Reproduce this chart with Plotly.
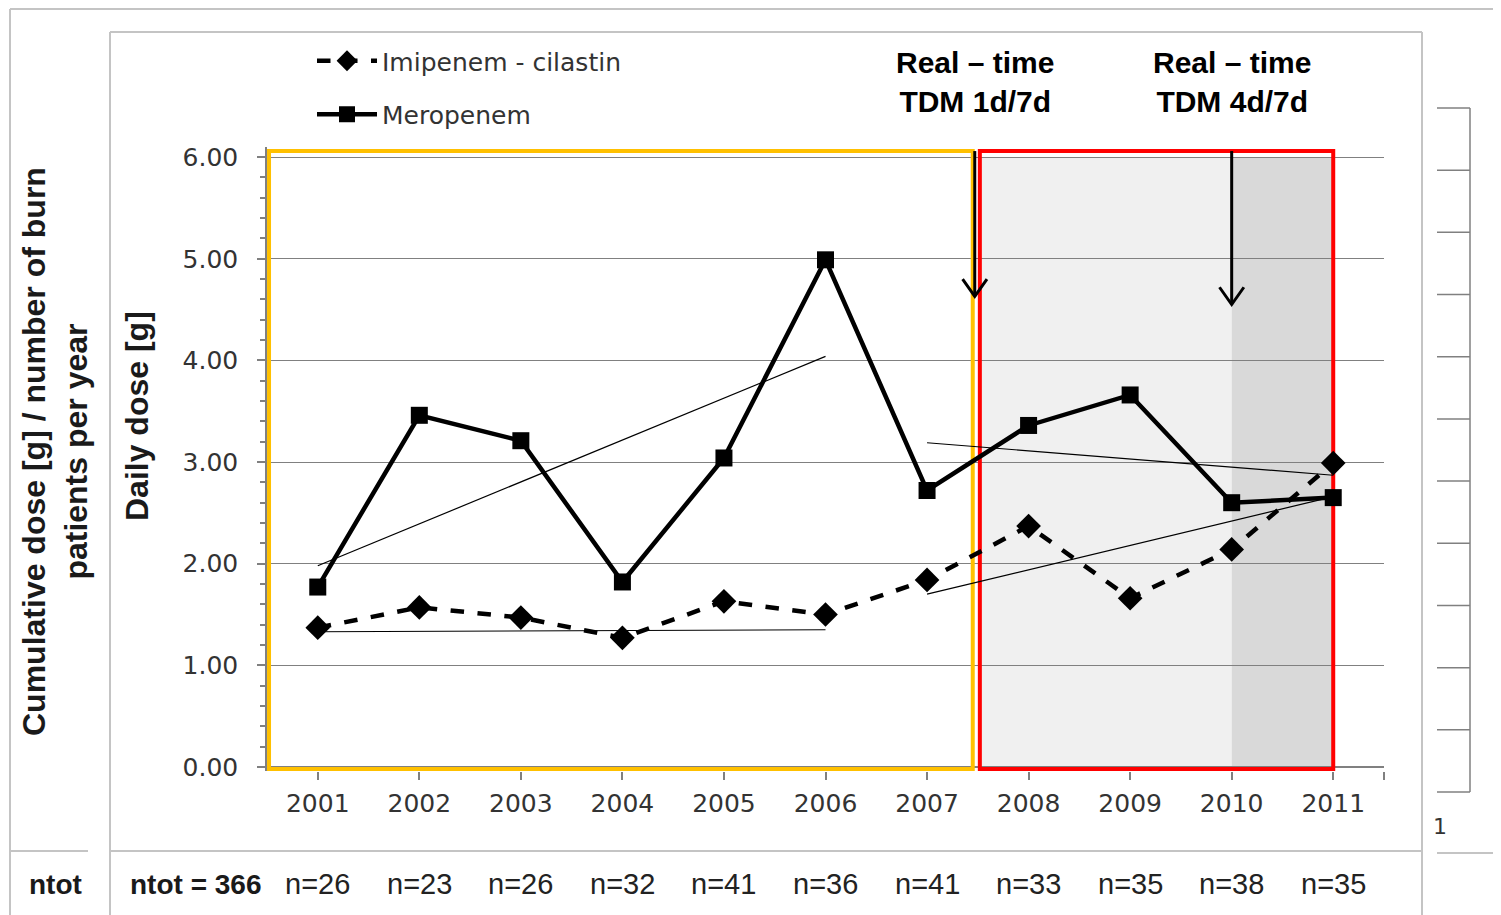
import plotly.graph_objects as go

# ---------------- data ----------------
years = [2001, 2002, 2003, 2004, 2005, 2006, 2007, 2008, 2009, 2010, 2011]
year_labels = [str(y) for y in years]
meropenem = [1.77, 3.46, 3.21, 1.82, 3.04, 4.99, 2.72, 3.36, 3.66, 2.60, 2.65]
imipenem = [1.37, 1.57, 1.47, 1.27, 1.63, 1.50, 1.84, 2.37, 1.66, 2.14, 2.99]
n_per_year = [26, 23, 26, 32, 41, 36, 41, 33, 35, 38, 35]
n_total = 366

# linear trend end points (period 1: 2001-2006, period 2: 2007-2011)
trend1_x = [2001, 2006]
mero_trend1 = [1.98, 4.04]
imi_trend1 = [1.33, 1.35]
trend2_x = [2007, 2011]
mero_trend2 = [3.19, 2.87]
imi_trend2 = [1.70, 2.66]

# periods
period1 = [2000.52, 2007.45]
period2 = [2007.52, 2011.0]
tdm4_start = 2010.0
arrow_x = [2007.47, 2010.0]
arrow_tip = [4.63, 4.55]

# ---------------- layout geometry (screen pixels) ----------------
OFF = 8                      # default page body margin
W, H = 1501 - OFF, 915 - OFF
L, R, T, B = 267, 1384, 147, 771   # plot area on screen


def px_x(p):
    return (p - L) / (R - L)


def px_y(p):
    return (B - p) / (B - T)


GRAY = "#808080"
FRAME = "#c4c4c4"
TXT = "#333333"

fig = go.Figure()

# trend lines
for tx, ty in [(trend1_x, mero_trend1), (trend1_x, imi_trend1),
               (trend2_x, mero_trend2), (trend2_x, imi_trend2)]:
    fig.add_trace(go.Scatter(x=tx, y=ty, mode="lines",
                             line=dict(color="black", width=1.2),
                             showlegend=False, hoverinfo="skip"))

fig.add_trace(go.Scatter(
    x=years, y=imipenem, mode="lines+markers", name="Imipenem - cilastin",
    legendgroup="a",
    line=dict(color="black", width=4.5, dash="dash"),
    marker=dict(symbol="diamond", size=19, color="black")))
fig.add_trace(go.Scatter(
    x=years, y=meropenem, mode="lines+markers", name="Meropenem",
    legendgroup="b",
    line=dict(color="black", width=4.5),
    marker=dict(symbol="square", size=17, color="black")))

shapes = []
# shaded periods
shapes.append(dict(type="rect", xref="x", yref="y", x0=period2[0], x1=tdm4_start,
                   y0=0, y1=6, fillcolor="#f0f0f0", line_width=0, layer="below"))
shapes.append(dict(type="rect", xref="x", yref="y", x0=tdm4_start, x1=period2[1],
                   y0=0, y1=6, fillcolor="#d9d9d9", line_width=0, layer="below"))
# period boxes
shapes.append(dict(type="rect", xref="x", yref="y", x0=period1[0], x1=period1[1],
                   y0=-0.02, y1=6.06, line=dict(color="#ffc000", width=4),
                   layer="between"))
shapes.append(dict(type="rect", xref="x", yref="y", x0=period2[0], x1=period2[1],
                   y0=-0.02, y1=6.06, line=dict(color="#ff0000", width=4),
                   layer="between"))
# arrows
for ax, tip in zip(arrow_x, arrow_tip):
    shapes.append(dict(type="line", xref="x", yref="y", x0=ax, x1=ax, y0=6.06, y1=tip,
                       line=dict(color="black", width=3), layer="between"))
    shapes.append(dict(type="path", xref="x", yref="y",
                       path=f"M{ax - 0.12},{tip + 0.17} L{ax},{tip} L{ax + 0.12},{tip + 0.17}",
                       line=dict(color="black", width=3), layer="between"))


# frames (paper coordinates derived from screen pixels)
def hline(x0, x1, y, color=FRAME, width=2):
    shapes.append(dict(type="line", xref="paper", yref="paper", x0=px_x(x0), x1=px_x(x1),
                       y0=px_y(y), y1=px_y(y), line=dict(color=color, width=width)))


def vline(x, y0, y1, color=FRAME, width=2):
    shapes.append(dict(type="line", xref="paper", yref="paper", x0=px_x(x), x1=px_x(x),
                       y0=px_y(y0), y1=px_y(y1), line=dict(color=color, width=width)))


hline(10, 1501, 9)
vline(10, 9, 915)
hline(110, 1422, 32)
vline(110, 32, 915)
vline(1422, 32, 915)
hline(10, 88, 851)
hline(110, 1422, 851)
hline(1437, 1501, 853)
# right-hand decoration (partial axis)
vline(1470, 108, 792, color=GRAY, width=1.5)
for k in range(12):
    yy = 108 + k * (792 - 108) / 11
    hline(1437, 1470, yy, color=GRAY, width=1.5)

annotations = []
for ax, txt in zip(arrow_x, ["Real – time<br>TDM 1d/7d", "Real – time<br>TDM 4d/7d"]):
    annotations.append(dict(x=ax, xref="x", y=px_y(82), yref="paper", text=f"<b>{txt}</b>",
                            showarrow=False, xanchor="center", yanchor="middle",
                            font=dict(family="Liberation Sans, Arial", size=30, color="black")))

# axis titles
annotations.append(dict(x=px_x(137), y=px_y(416), xref="paper", yref="paper",
                        text="<b>Daily dose [g]</b>", textangle=-90, showarrow=False,
                        xanchor="center", yanchor="middle",
                        font=dict(family="Liberation Sans, Arial", size=32, color="#1a1a1a")))
annotations.append(dict(x=px_x(55), y=px_y(452), xref="paper", yref="paper",
                        text="<b>Cumulative dose [g] / number of burn<br>patients per year</b>",
                        textangle=-90, showarrow=False, xanchor="center", yanchor="middle",
                        font=dict(family="Liberation Sans, Arial", size=32, color="#1a1a1a")))

# bottom row with patient numbers
annotations.append(dict(x=px_x(55), y=px_y(884), xref="paper", yref="paper",
                        text="<b>ntot</b>", showarrow=False, xanchor="center", yanchor="middle",
                        font=dict(family="Liberation Sans, Arial", size=28, color="#1a1a1a")))
annotations.append(dict(x=px_x(195), y=px_y(884), xref="paper", yref="paper",
                        text=f"<b>ntot = {n_total}</b>", showarrow=False, xanchor="center",
                        yanchor="middle",
                        font=dict(family="Liberation Sans, Arial", size=28, color="#1a1a1a")))
for yr, n in zip(years, n_per_year):
    annotations.append(dict(x=yr, xref="x", y=px_y(884), yref="paper", text=f"n={n}",
                            showarrow=False, xanchor="center", yanchor="middle",
                            font=dict(family="Liberation Sans, Arial", size=29, color="#222222")))
annotations.append(dict(x=px_x(1440), y=px_y(826), xref="paper", yref="paper", text="1",
                        showarrow=False, xanchor="center", yanchor="middle",
                        font=dict(family="DejaVu Sans", size=22, color=TXT)))

fig.update_layout(
    width=W, height=H,
    margin=dict(l=L - OFF, r=(W + OFF) - R, t=T - OFF, b=(H + OFF) - B, pad=0),
    paper_bgcolor="white", plot_bgcolor="white",
    shapes=shapes, annotations=annotations,
    showlegend=True,
    legend=dict(x=px_x(312), y=px_y(38), xanchor="left", yanchor="top",
                traceorder="grouped", tracegroupgap=18, itemwidth=60,
                bgcolor="rgba(0,0,0,0)",
                font=dict(family="DejaVu Sans", size=25, color=TXT)),
    xaxis=dict(range=[2000.5, 2011.5], tickvals=years + [2011.5],
               ticktext=year_labels + [""], ticks="outside", ticklen=8, tickcolor=GRAY,
               tickwidth=1.5, showgrid=False, showline=False, zeroline=False,
               ticklabelstandoff=2,
               tickfont=dict(family="DejaVu Sans", size=25, color=TXT)),
    yaxis=dict(range=[-0.04, 6.1], tick0=0, dtick=1, tickformat=".2f",
               ticks="outside", ticklen=8, tickcolor=GRAY, tickwidth=1.5,
               ticklabelstandoff=14,
               showgrid=True, gridcolor=GRAY, gridwidth=1.3,
               showline=True, linecolor=GRAY, linewidth=1.5,
               zeroline=True, zerolinecolor=GRAY, zerolinewidth=1.5,
               minor=dict(dtick=0.2, ticks="outside", ticklen=5, tickcolor=GRAY, showgrid=False),
               tickfont=dict(family="DejaVu Sans", size=25, color=TXT)),
)

fig.write_html("out.html")
